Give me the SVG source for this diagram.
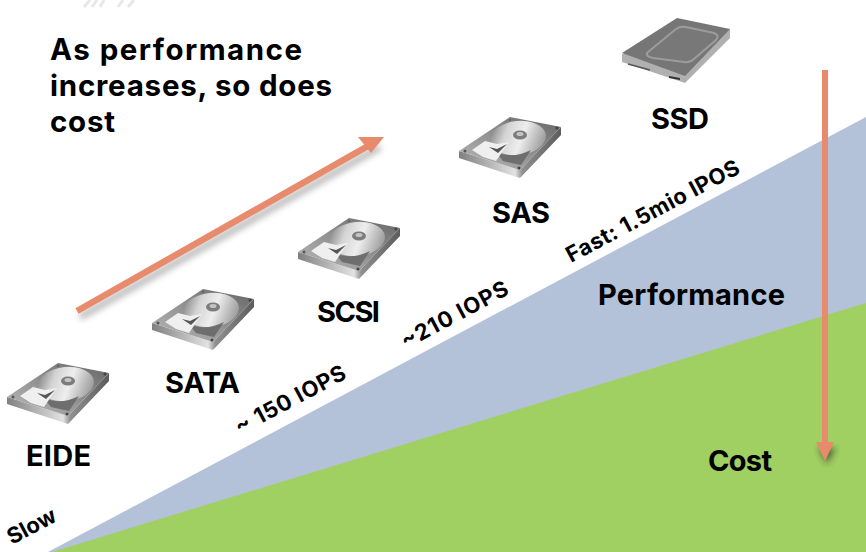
<svg xmlns="http://www.w3.org/2000/svg" xmlns:xlink="http://www.w3.org/1999/xlink" width="866" height="552" viewBox="0 0 866 552">
<style>
text{font-family:Inter,"Open Sans","Liberation Sans",sans-serif;font-weight:700;fill:#000}
.ttl{font-size:29.500px}
.lab{font-size:29px}
.rot{font-size:22px}
.ar{fill:none;stroke:#e78b6c}
.arh{fill:#e78b6c}
</style>
<defs>
<filter id="bl" x="-30%" y="-30%" width="160%" height="160%"><feGaussianBlur stdDeviation="0.6"/></filter>
<filter id="sh" x="-20%" y="-20%" width="140%" height="140%"><feGaussianBlur stdDeviation="3"/></filter>
<linearGradient id="pl" x1="0" y1="0.2" x2="1" y2="0.5"><stop offset="0" stop-color="#808080"/><stop offset="0.3" stop-color="#d4d4d4"/><stop offset="0.6" stop-color="#eee"/><stop offset="1" stop-color="#a0a0a0"/></linearGradient>
<linearGradient id="bd" x1="0" y1="1" x2="1" y2="0"><stop offset="0" stop-color="#bcbcbc"/><stop offset="0.5" stop-color="#909090"/><stop offset="1" stop-color="#666"/></linearGradient>
<linearGradient id="ed" x1="0" y1="0" x2="1" y2="0"><stop offset="0" stop-color="#808080"/><stop offset="0.55" stop-color="#e2e2e2"/><stop offset="0.62" stop-color="#909090"/><stop offset="1" stop-color="#5c5c5c"/></linearGradient>
<g id="hdd" filter="url(#bl)">
<path d="M0,34 L0,41 L61,61 L102,18 L102,10 L61,53Z" fill="url(#ed)"/>
<path d="M0,34 L51,0 L102,10 L61,53Z" fill="url(#bd)"/>
<ellipse cx="59" cy="21" rx="28" ry="17" transform="rotate(-6 59 21)" fill="url(#pl)"/>
<path d="M36,34 Q52,43 72,33 L62,48 L44,44Z" fill="#6e6e6e"/>
<ellipse cx="61" cy="18" rx="7" ry="4.500" fill="#7c7c7c"/>
<ellipse cx="61" cy="17" rx="3.500" ry="2" fill="#c4c4c4"/>
<path d="M13,33 L26,24 L38,27 L50,25 L37,44 L24,40Z" fill="#efefef"/>
<path d="M30,30 L39,36 L48,27 L38,32Z" fill="#555"/>
<circle cx="6" cy="34" r="1.500" fill="#555"/><circle cx="60" cy="51" r="1.500" fill="#444"/><circle cx="98" cy="11" r="1.500" fill="#444"/><circle cx="51" cy="3" r="1.200" fill="#666"/>
</g>
</defs>
<rect width="866" height="552" fill="#fff"/>
<g id="ghost" stroke="#e8e8e8" stroke-width="3" filter="url(#bl)">
<path d="M84,7 L90,0 M92,7 L97,0 M100,7 L104,0 M118,7 L123,0 M128,7 L134,0"/>
</g>
<polygon id="performance-wedge" points="48,552 866,117 866,552" fill="#b4c2d9"/>
<polygon id="cost-wedge" points="52,552 866,303 866,552" fill="#a0cf62"/>
<g id="connectors">
<path d="M80,317 L380,147" stroke="#555" stroke-width="7" opacity="0.4" fill="none" filter="url(#sh)"/>
<path d="M829,75 V450" stroke="#444" stroke-width="6" opacity="0.4" fill="none" filter="url(#sh)"/>
<path d="M825,458 l-9,-16 h18Z" transform="translate(2,6)" fill="#222" opacity="0.6" filter="url(#sh)"/>
<path class="ar" stroke-width="6.500" d="M77,311 L368,146"/>
<polygon class="arh" points="384,137 358,137 371,153"/>
<path class="ar" stroke-width="6" d="M825,70 V445"/>
<polygon class="arh" points="825,461 816,442 834,442"/>
</g>
<g id="title"><text class="ttl" x="50" y="60" textLength="252">As performance</text><text class="ttl" x="50" y="96" textLength="282">increases, so does</text><text class="ttl" x="50" y="132" textLength="65">cost</text></g>
<g id="eide"><use xlink:href="#hdd" href="#hdd" x="7" y="363"/><text class="lab" x="26" y="466" textLength="65">EIDE</text></g>
<g id="sata"><use xlink:href="#hdd" href="#hdd" x="152" y="289"/><text class="lab" x="165" y="393" textLength="75">SATA</text></g>
<g id="scsi"><use xlink:href="#hdd" href="#hdd" x="298" y="218"/><text class="lab" x="317" y="322" textLength="63">SCSI</text></g>
<g id="sas"><use xlink:href="#hdd" href="#hdd" x="459" y="117"/><text class="lab" x="492" y="223" textLength="58">SAS</text></g>
<g id="ssd">
<g filter="url(#bl)">
<path d="M622,54 L622,62 L685,83 L730,38 L730,29Z" fill="#b0b0b0"/>
<path d="M622,53 L677,18 L730,29 L685,76Z" fill="#767676"/>
<path d="M648,52 L676,29 Q680,26 686,27 L714,33 Q720,35 716,40 L694,59 Q690,63 684,62 L653,58 Q644,56 648,52Z" fill="#787878" stroke="#9c9c9c" stroke-width="2"/>
<path d="M669,78 L680,80 L680,78 L669,76Z" fill="#333"/>
<path d="M628,64 L650,70" stroke="#555" stroke-width="1.500"/>
</g>
<text class="lab" x="651" y="129" textLength="58">SSD</text>
</g>
<g id="labels">
<text class="rot" transform="translate(12,545) rotate(-28)">Slow</text>
<text class="rot" transform="translate(240,435) rotate(-28)" textLength="122">~ 150 IOPS</text>
<text class="rot" transform="translate(406,349) rotate(-28)" textLength="118">~210 IOPS</text>
<text class="rot" transform="translate(571,263) rotate(-28)" textLength="193">Fast: 1.5mio IPOS</text>
<text class="lab" x="598" y="305" textLength="187">Performance</text>
<text class="lab" x="708" y="471" textLength="64">Cost</text>
</g>
</svg>
